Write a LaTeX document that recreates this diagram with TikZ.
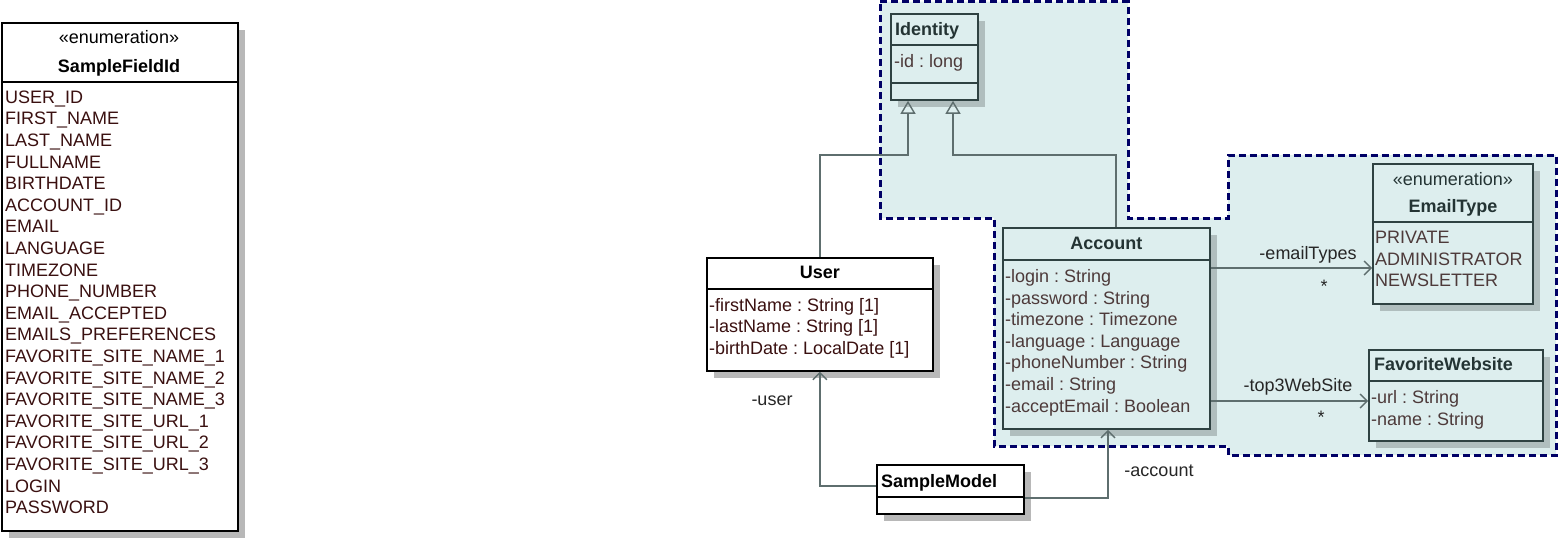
\documentclass[tikz,border=0pt]{standalone}
\usepackage{fontspec}
\setmainfont{Liberation Sans}
\usetikzlibrary{arrows.meta,shadows}
\definecolor{pkgfill}{HTML}{DDEEEE}
\definecolor{pkgline}{HTML}{000066}
\definecolor{clsborder}{HTML}{2F4242}
\definecolor{clstitle}{HTML}{243434}
\definecolor{clsattr}{HTML}{4D3A3A}
\definecolor{wattr}{HTML}{3A1010}
\definecolor{shadowc}{HTML}{B0BEBE}
\definecolor{wshadow}{HTML}{B8B8B8}
\definecolor{connc}{HTML}{5E6E6E}
\frenchspacing
\begin{document}
\begin{tikzpicture}[x=1pt,y=-1pt,
  cls/.style={draw=clsborder, fill=pkgfill, line width=1.8pt, inner sep=0, anchor=north west,
    general shadow={fill=shadowc, shadow xshift=7pt, shadow yshift=-7pt}},
  wcls/.style={draw=black, fill=white, line width=1.8pt, inner sep=0, anchor=north west,
    general shadow={fill=wshadow, shadow xshift=7pt, shadow yshift=-7pt}},
  div/.style={line width=1.8pt},
  txt/.style={font=\fontsize{18}{21.6}\selectfont, inner sep=0, anchor=base west},
  ctxt/.style={font=\fontsize{18}{21.6}\selectfont, inner sep=0, anchor=base},
  ttl/.style={font=\fontsize{18}{21.6}\selectfont\bfseries, inner sep=0, anchor=base},
  lttl/.style={font=\fontsize{18}{21.6}\selectfont\bfseries, inner sep=0, anchor=base west},
  conn/.style={draw=connc, line width=1.4pt},
  gen/.style={conn, -{Triangle[open,length=13pt,width=15pt,line width=1.4pt]}},
  assoc/.style={conn, -{Straight Barb[length=7pt,width=14pt,line width=1.4pt]}},
  lbl/.style={font=\fontsize{18}{21.6}\selectfont, inner sep=0, anchor=base, text=black!85}
]
\useasboundingbox (0,0) rectangle (1558,539);

% package outline
\draw[pkgline, fill=pkgfill, line width=3pt, dash pattern=on 7pt off 4pt]
  (880,1.5) -- (1128,1.5) -- (1128,218) -- (1228,218) -- (1228,155) -- (1556,155)
  -- (1556,455) -- (1228,455) -- (1228,446) -- (994,446) -- (994,218) -- (880,218) -- cycle;

% SampleFieldId
\node[wcls, minimum width=236pt, minimum height=508pt] (sfi) at (1,22) {};
\draw[div] (sfi.west |- 0,82) -- (sfi.east |- 0,82);
\node[ctxt] (sfist) at (119,43) {«enumeration»};
\node[ttl] (sfiname) at (119,72) {SampleFieldId};
\foreach \t [count=\i from 0] in {USER\_ID,FIRST\_NAME,LAST\_NAME,FULLNAME,BIRTHDATE,ACCOUNT\_ID,EMAIL,LANGUAGE,TIMEZONE,PHONE\_NUMBER,EMAIL\_ACCEPTED,EMAILS\_PREFERENCES,FAVORITE\_SITE\_NAME\_1,FAVORITE\_SITE\_NAME\_2,FAVORITE\_SITE\_NAME\_3,FAVORITE\_SITE\_URL\_1,FAVORITE\_SITE\_URL\_2,FAVORITE\_SITE\_URL\_3,LOGIN,PASSWORD}
  \node[txt, text=wattr] (sfi\i) at (5,103.3+21.6*\i) {\t};

% Identity
\node[cls, minimum width=87pt, minimum height=86pt] (identity) at (890,13) {};
\draw[div, clsborder] (identity.west |- 0,45) -- (identity.east |- 0,45);
\draw[div, clsborder] (identity.west |- 0,83) -- (identity.east |- 0,83);
\node[lttl, text=clstitle] (idname) at (895,35.5) {Identity};
\node[txt, text=clsattr] (idattr) at (894,67) {-id : long};

% User
\node[wcls, minimum width=226pt, minimum height=113pt] (user) at (706,257) {};
\draw[div] (user.west |- 0,289) -- (user.east |- 0,289);
\node[ttl] (username) at (user.center |- 0,278.5) {User};
\node[txt, text=wattr] (u1) at (709,311) {-firstName : String [1]};
\node[txt, text=wattr] (u2) at (709,332.6) {-lastName : String [1]};
\node[txt, text=wattr] (u3) at (709,354.2) {-birthDate : LocalDate [1]};

% Account
\node[cls, minimum width=207pt, minimum height=201pt] (account) at (1002,227) {};
\draw[div, clsborder] (account.west |- 0,260) -- (account.east |- 0,260);
\node[ttl, text=clstitle] (accname) at (account.center |- 0,249.5) {Account};
\foreach \t [count=\i from 0] in {-login : String,-password : String,-timezone : Timezone,-language : Language,-phoneNumber : String,-email : String,-acceptEmail : Boolean}
  \node[txt, text=clsattr] (acc\i) at (1005,282.5+21.6*\i) {\t};

% EmailType
\node[cls, minimum width=160pt, minimum height=140pt] (emailtype) at (1372,163) {};
\draw[div, clsborder] (emailtype.west |- 0,222) -- (emailtype.east |- 0,222);
\node[ctxt, text=clstitle] (etst) at (emailtype.center |- 0,185) {«enumeration»};
\node[ttl, text=clstitle] (etname) at (emailtype.center |- 0,212.5) {EmailType};
\node[txt, text=clsattr] (et0) at (1375,243.5) {PRIVATE};
\node[txt, text=clsattr] (et1) at (1375,265.1) {ADMINISTRATOR};
\node[txt, text=clsattr] (et2) at (1375,286.7) {NEWSLETTER};

% FavoriteWebsite
\node[cls, minimum width=174pt, minimum height=91pt] (favsite) at (1368,349) {};
\draw[div, clsborder] (favsite.west |- 0,381) -- (favsite.east |- 0,381);
\node[lttl, text=clstitle] (fwname) at (1374,370.5) {FavoriteWebsite};
\node[txt, text=clsattr] (fw0) at (1371,403.5) {-url : String};
\node[txt, text=clsattr] (fw1) at (1371,425.1) {-name : String};

% SampleModel
\node[wcls, minimum width=147pt, minimum height=49pt] (samplemodel) at (876,464) {};
\draw[div] (samplemodel.west |- 0,497) -- (samplemodel.east |- 0,497);
\node[lttl] (smname) at (881,487) {SampleModel};

% generalizations
\coordinate (g1) at (908,155);
\coordinate (g2) at (953,155);
\coordinate (a1) at (1116,155);
\draw[gen] (user.north) |- (g1) -- (g1 |- identity.south);
\draw[gen] (a1 |- account.north) -- (a1) -- (g2) -- (g2 |- identity.south);

% associations
\draw[assoc] (account.east |- 0,268) -- (emailtype.west |- 0,268);
\node[lbl] (l1) at (1308,259) {-emailTypes};
\node[lbl] (l1m) at (1324,292) {*};
\draw[assoc] (account.east |- 0,401) -- (favsite.west |- 0,401);
\node[lbl] (l2) at (1298,391) {-top3WebSite};
\node[lbl] (l2m) at (1321,423) {*};
\draw[assoc] (samplemodel.west |- 0,486) -| (user.south);
\node[lbl] (l3) at (772,405) {-user};
\coordinate (s1) at (1108,498);
\draw[assoc] (samplemodel.east |- s1) -- (s1) -- (s1 |- account.south);
\node[lbl] (l4) at (1159,476) {-account};
\end{tikzpicture}
\end{document}
